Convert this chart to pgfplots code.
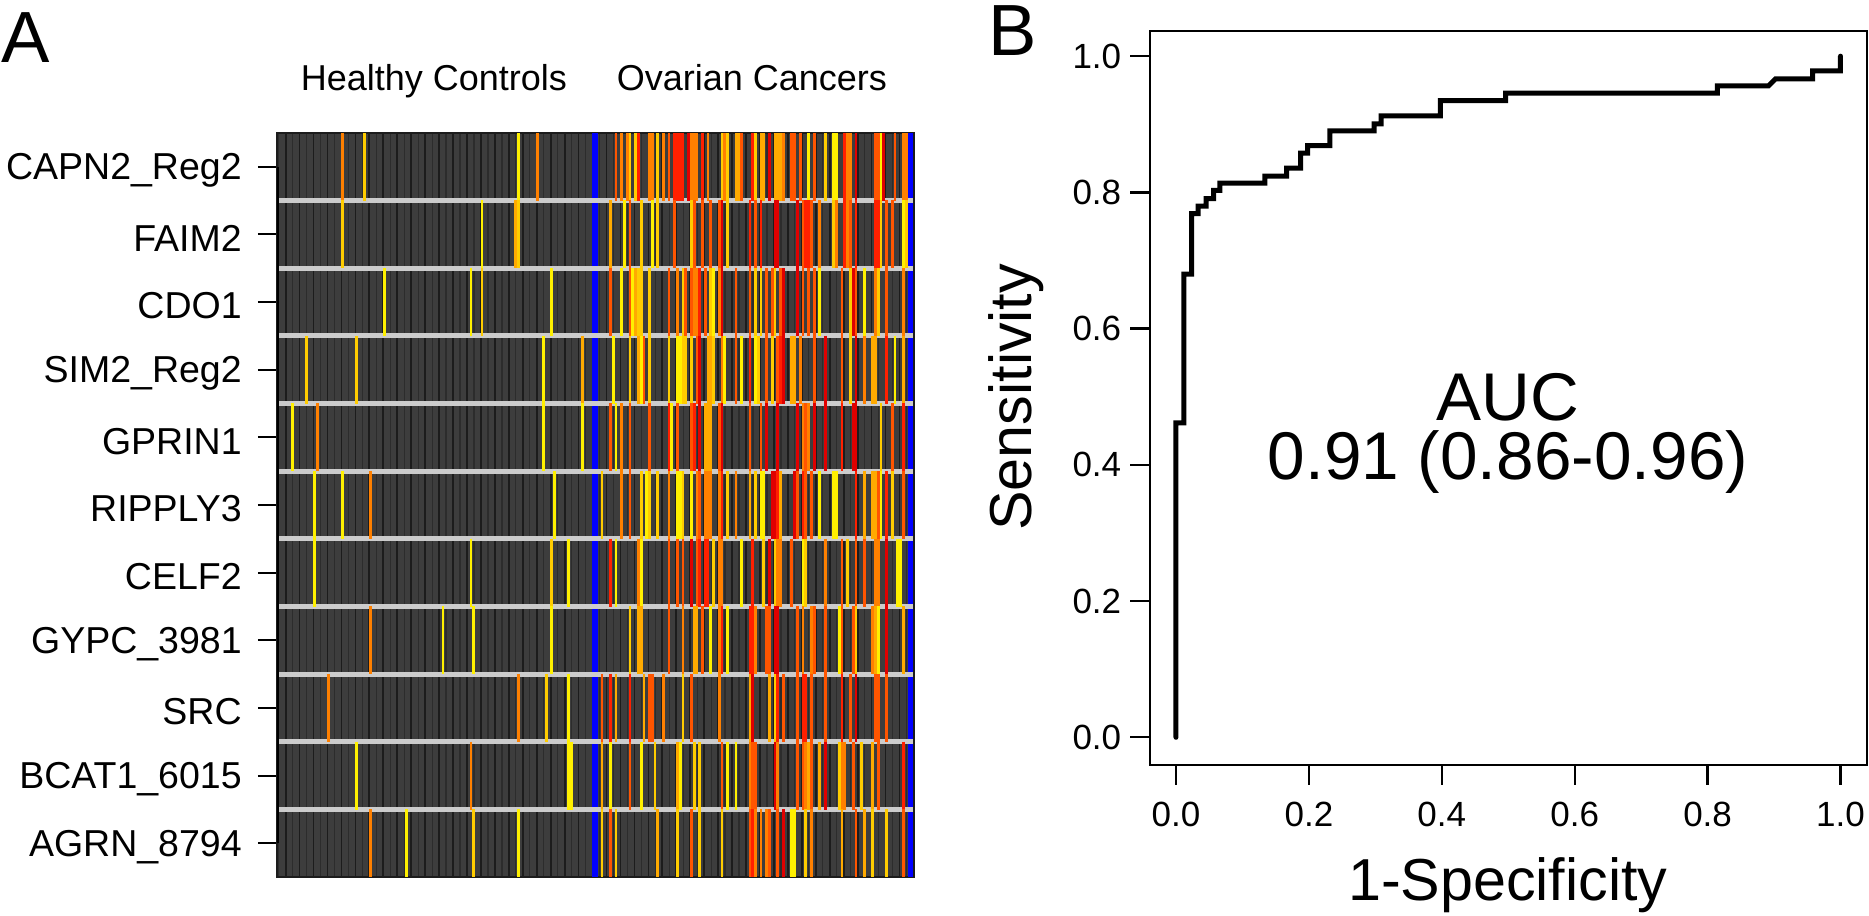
\documentclass[border=0pt]{standalone}
\usepackage{fontspec}
\setmainfont{Liberation Sans}
\usepackage{pgfplots}
\pgfplotsset{compat=1.18}

\definecolor{hmbg}{HTML}{3D3D3D}
\definecolor{hmgrid}{HTML}{1C1C1C}
\definecolor{hmgrid2}{HTML}{2C2C2C}
\definecolor{hmy}{HTML}{FFF000}
\definecolor{hmg}{HTML}{FFCC00}
\definecolor{hma}{HTML}{FFAA00}
\definecolor{hmo}{HTML}{FF8000}
\definecolor{hmd}{HTML}{FF5500}
\definecolor{hmr}{HTML}{FF2000}
\definecolor{hmR}{HTML}{E00000}

\newcommand{\fsz}[1]{\fontsize{#1}{#1}\selectfont}

% one column of a row of the heat map is one mark, as wide as the column
\tikzset{hmk/.style={mark=|,mark size=13.6pt,line width=1.116pt,draw=#1}}
\pgfplotsset{
  hm/.style={scatter,only marks,mark=|,point meta=explicit symbolic,
    scatter/classes={
      y={hmk=hmy},g={hmk=hmg},a={hmk=hma},o={hmk=hmo},
      d={hmk=hmd},r={hmk=hmr},R={hmk=hmR}}},
  table/rowtab/.style={row sep=crcr,header=false,x index=0,meta index=1,y expr=#1}
}

\begin{document}
\begin{tikzpicture}
\path[use as bounding box] (0,0) rectangle (747.6pt,366.4pt);

% panel A, 1 px of the reference = 0.4pt
\begin{axis}[
  at={(110.8pt,15.6pt)},anchor=south west,
  scale only axis,width=254.8pt,height=297.6pt,
  xmin=-0.5,xmax=227.8,ymin=0,ymax=11,
  axis background/.style={fill=hmbg},
  axis line style={draw=hmgrid,line width=.5pt},
  xtick={2.6,7.6,...,227.6},xticklabels={},
  minor xtick={0.1,5.1,...,225.1},
  xmajorgrids,xminorgrids,
  major grid style={draw=hmgrid,line width=.7pt},
  minor grid style={draw=hmgrid2,line width=.5pt},
  x tick style={draw=none},
  ytick={0.5,1.5,...,10.5},
  yticklabels={AGRN\_8794,BCAT1\_6015,SRC,GYPC\_3981,CELF2,RIPPLY3,GPRIN1,SIM2\_Reg2,CDO1,FAIM2,CAPN2\_Reg2},
  y tick style={black,line width=.8pt},
  tick pos=left,tick align=outside,
  major tick length=7.6pt,minor tick length=0pt,
  y tick label style={font=\fsz{15},xshift=-3pt,yshift=-1.5pt},
]
\addplot[hm] table[rowtab=10.5] {
23 o\\31 g\\86 y\\93 o\\121 d\\123 o\\125 o\\126 g\\128 g\\129 r\\133 o\\134 o\\136 g\\138 o\\140 d\\142 r\\143 r\\144 r\\145 r\\147 R\\148 o\\149 o\\150 o\\152 r\\154 o\\
159 g\\160 o\\161 g\\164 a\\165 a\\166 d\\170 r\\171 g\\173 a\\174 a\\176 R\\178 a\\179 a\\180 a\\181 o\\184 d\\185 d\\187 d\\190 y\\192 d\\196 g\\199 y\\200 y\\203 r\\204 o\\205 o\\207 R\\214 d\\215 d\\216 y\\217 R\\221 d\\224 o\\225 o\\
};
\addplot[hm] table[rowtab=9.5] {
23 g\\73 y\\85 a\\86 g\\119 a\\124 y\\126 d\\130 g\\134 y\\136 g\\142 d\\148 g\\149 d\\152 d\\155 d\\158 d\\159 R\\161 g\\169 r\\171 d\\173 r\\178 R\\179 R\\
186 R\\188 d\\189 r\\190 r\\191 d\\194 o\\199 g\\200 o\\203 r\\204 o\\205 d\\207 r\\214 r\\215 r\\216 g\\218 d\\220 d\\224 y\\225 g\\
};
\addplot[hm] table[rowtab=8.5] {
38 y\\69 y\\73 g\\98 y\\119 d\\123 y\\126 d\\127 y\\128 a\\129 g\\130 g\\133 g\\140 d\\143 o\\145 g\\146 d\\148 d\\149 o\\150 o\\151 r\\153 d\\155 g\\156 y\\158 o\\159 R\\
164 d\\169 d\\171 g\\173 g\\175 d\\177 d\\178 g\\180 d\\181 R\\186 R\\188 d\\190 d\\192 d\\194 y\\202 d\\205 g\\206 R\\207 d\\210 y\\214 o\\215 g\\218 d\\224 o\\
};
\addplot[hm] table[rowtab=7.5] {
10 g\\28 g\\95 y\\109 a\\120 y\\126 g\\129 a\\130 y\\131 d\\133 g\\140 g\\143 y\\144 y\\145 g\\146 g\\148 g\\150 d\\151 R\\154 a\\155 a\\156 g\\159 o\\160 y\\
164 d\\166 y\\169 r\\171 y\\172 g\\175 d\\177 g\\179 d\\180 r\\181 R\\184 a\\185 a\\187 o\\192 d\\196 R\\202 d\\205 g\\207 R\\210 o\\213 a\\214 a\\218 r\\221 y\\224 a\\
};
\addplot[hm] table[rowtab=6.5] {
5 y\\14 o\\95 y\\109 y\\119 d\\121 y\\123 o\\126 d\\133 d\\140 r\\141 y\\143 d\\148 d\\149 r\\151 R\\153 a\\154 a\\155 a\\158 d\\159 R\\
169 d\\173 d\\175 R\\179 R\\186 R\\188 o\\189 d\\190 o\\192 R\\196 R\\202 r\\206 R\\207 R\\216 g\\220 d\\224 r\\
};
\addplot[hm] table[rowtab=5.5] {
13 y\\23 y\\33 o\\99 y\\116 g\\123 o\\126 d\\130 g\\132 y\\133 g\\136 g\\140 o\\143 y\\144 y\\145 g\\148 y\\150 o\\151 d\\153 o\\154 o\\155 o\\158 o\\159 r\\161 g\\164 o\\
169 a\\171 g\\173 y\\174 y\\177 R\\178 R\\179 r\\180 a\\185 R\\186 d\\188 r\\189 d\\191 d\\194 y\\199 y\\200 y\\207 r\\210 a\\213 a\\214 a\\215 d\\216 y\\218 r\\220 g\\224 d\\
};
\addplot[hm] table[rowtab=4.5] {
13 y\\69 y\\98 g\\104 y\\119 r\\121 y\\129 o\\130 y\\140 d\\143 d\\145 d\\148 R\\150 d\\151 r\\153 r\\154 r\\156 g\\158 o\\159 o\\166 y\\170 r\\174 g\\176 R\\
178 g\\179 o\\180 o\\184 d\\188 y\\189 g\\196 o\\202 d\\204 g\\207 d\\210 d\\214 o\\215 o\\218 R\\222 y\\223 y\\
};
\addplot[hm] table[rowtab=3.5] {
33 o\\59 y\\70 y\\98 y\\126 g\\129 a\\130 a\\140 d\\145 o\\149 a\\150 a\\152 d\\155 y\\158 o\\159 r\\161 y\\169 r\\170 r\\171 o\\175 d\\176 d\\178 R\\179 R\\
186 d\\188 o\\191 o\\192 d\\196 d\\201 y\\202 d\\206 d\\207 g\\213 o\\214 a\\215 y\\218 R\\224 a\\
};
\addplot[hm] table[rowtab=2.5] {
18 o\\86 o\\96 g\\104 y\\116 d\\119 r\\121 a\\126 r\\131 a\\133 d\\134 d\\138 o\\145 g\\148 d\\158 o\\169 a\\170 R\\
176 a\\178 g\\179 r\\181 d\\186 d\\188 r\\189 r\\191 d\\196 d\\202 r\\205 d\\207 R\\214 d\\215 d\\218 d\\
};
\addplot[hm] table[rowtab=1.5] {
28 y\\69 o\\104 y\\105 y\\116 a\\119 y\\126 d\\130 y\\135 g\\143 a\\144 y\\149 g\\151 g\\159 d\\161 y\\164 y\\169 o\\170 d\\171 d\\
178 R\\179 o\\186 d\\188 d\\189 o\\190 a\\191 d\\194 a\\196 R\\201 g\\202 o\\203 o\\206 d\\209 g\\213 a\\215 d\\224 r\\
};
\addplot[hm] table[rowtab=0.5] {
33 o\\46 y\\70 g\\86 y\\116 g\\119 d\\121 g\\136 a\\143 g\\148 d\\151 g\\159 g\\169 d\\170 r\\171 o\\173 o\\175 o\\176 d\\
179 d\\181 R\\184 y\\185 y\\189 g\\191 o\\202 a\\207 d\\210 a\\213 g\\218 g\\224 d\\
};
% blue columns, row gaps and the bold axis line
\addplot[blue,line width=2.7pt] coordinates {(113.5,0)(113.5,11)};
\addplot[blue,line width=1.76pt] coordinates {(226.6,0)(226.6,11)};
\addplot[unbounded coords=jump,draw=black!20,line width=2pt] coordinates {
(0,1)(227.6,1)(nan,nan)(0,2)(227.6,2)(nan,nan)(0,3)(227.6,3)(nan,nan)
(0,4)(227.6,4)(nan,nan)(0,5)(227.6,5)(nan,nan)(0,6)(227.6,6)(nan,nan)
(0,7)(227.6,7)(nan,nan)(0,8)(227.6,8)(nan,nan)(0,9)(227.6,9)(nan,nan)
(0,10)(227.6,10)};
\addplot[black,line width=1pt] coordinates {(-0.2,0.5)(-0.2,10.5)};
\end{axis}

% panel B
\begin{axis}[
  at={(460pt,60.4pt)},anchor=south west,
  scale only axis,width=286.8pt,height=293.6pt,
  xmin=-0.0391,xmax=1.0399,ymin=-0.0407,ymax=1.037,
  xtick={0,0.2,...,1.0},ytick={0,0.2,...,1.0},
  tick pos=left,tick align=outside,major tick length=8pt,
  axis line style={line width=1.1pt},
  tick style={black,line width=.9pt},
  tick label style={font=\fsz{14},
    /pgf/number format/fixed,/pgf/number format/fixed zerofill,
    /pgf/number format/precision=1,/pgf/number format/assume math mode=true},
  x tick label style={yshift=-3.3pt},
  xlabel={1-Specificity},ylabel={Sensitivity},
  xlabel style={font=\fsz{23.7},at={(axis description cs:0.499,-0.164)},anchor=center},
  ylabel style={font=\fsz{23.7},at={(axis description cs:-0.187,0.501)},anchor=center},
]
\addplot[black,line width=2pt,line cap=round] coordinates {
(0,0)(0,0.4615)(0.012,0.4615)(0.012,0.68)(0.0236,0.68)(0.0236,0.769)
(0.0334,0.769)(0.0334,0.780)(0.0453,0.780)(0.0453,0.791)(0.0566,0.791)(0.0566,0.803)
(0.0662,0.803)(0.0662,0.8135)(0.1336,0.8135)(0.1336,0.824)(0.1664,0.824)(0.1664,0.8355)
(0.1875,0.8355)(0.1875,0.8575)(0.198,0.8575)(0.198,0.8687)(0.2317,0.8687)(0.2317,0.8903)
(0.2983,0.8903)(0.2983,0.9006)(0.3088,0.9006)(0.3088,0.9123)(0.3977,0.9123)(0.3977,0.9348)
(0.4959,0.9348)(0.4959,0.9456)(0.8146,0.9456)(0.8146,0.9564)(0.8916,0.9564)(0.9022,0.9667)
(0.9582,0.9667)(0.9582,0.9784)(1,0.9784)(1,1)};
\node[font=\fsz{27},inner sep=0pt] at (axis cs:0.4996,0.4997) {AUC};
\node[font=\fsz{27},inner sep=0pt] at (axis cs:0.4996,0.4047) {0.91 (0.86-0.96)};
\end{axis}

\node[font=\fsz{14.4},anchor=base] at (173.6pt,330.2pt) {Healthy Controls};
\node[font=\fsz{14.4},anchor=base] at (300.8pt,330.2pt) {Ovarian Cancers};
\node[font=\fsz{29}] at (10.4pt,351.2pt) {A};
\node[font=\fsz{29}] at (405.2pt,354pt) {B};
\end{tikzpicture}
\end{document}
